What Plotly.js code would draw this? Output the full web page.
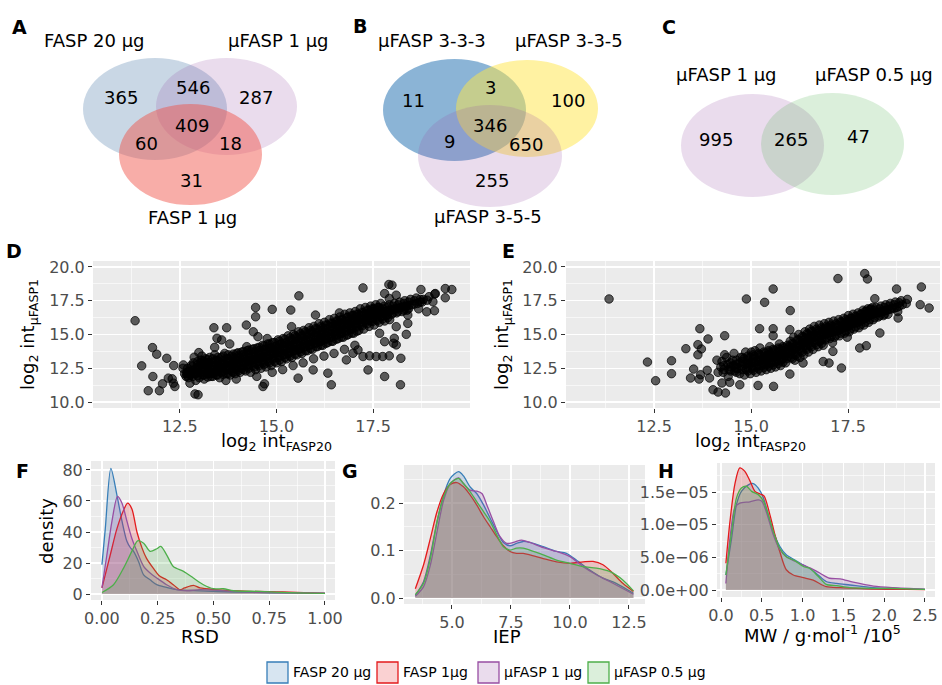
<!DOCTYPE html>
<html><head><meta charset="utf-8">
<script src="https://cdn.plot.ly/plotly-3.0.1.min.js"></script>
<style>html,body{margin:0;padding:0;background:#fff}#chart{width:942px;height:685px}</style>
</head><body><div id="chart"></div>
<script>
// ---------------- DATA ----------------
const vennALabels = ['FASP 20 µg', 'µFASP 1 µg', 'FASP 1 µg'];
const vennACounts = [365, 546, 287, 409, 60, 18, 31];
const vennBLabels = ['µFASP 3-3-3', 'µFASP 3-3-5', 'µFASP 3-5-5'];
const vennBCounts = [11, 3, 100, 346, 9, 650, 255];
const vennCLabels = ['µFASP 1 µg', 'µFASP 0.5 µg'];
const vennCCounts = [995, 265, 47];
const seriesNames = ['FASP 20 µg', 'FASP 1µg', 'µFASP 1 µg', 'µFASP 0.5 µg'];

// Panel D scatter (log2 int FASP20 vs log2 int FASP1)
const dOutliers = [[11.34,16.02],[11.51,12.68],[11.68,10.84],[11.79,14.03],[11.9,13.54],[11.8,11.89],[11.97,10.84],[12.05,11.35],[12.16,13.24],[12.2,11.77],[12.33,11.4],[12.34,12.7],[12.3,11.72],[12.37,11.15],[12.59,12.75],[12.67,12.14],[12.76,11.4],[12.89,10.6],[12.97,10.54],[12.87,13.32],[12.99,13.66],[13.38,15.5],[13.71,15.5],[13.46,14.72],[13.58,14.6],[13.4,14.05],[13.79,14.3],[14.22,15.7],[14.46,17.0],[14.46,16.31],[14.4,15.2],[14.52,14.84],[14.89,16.86],[15.37,16.81],[15.58,17.86],[15.39,15.58],[16.01,16.44],[14.65,11.15],[14.69,11.35],[15.56,11.77],[16.42,11.28],[16.33,12.14],[15.95,12.38],[17.24,18.45],[17.91,18.7],[17.99,18.65],[17.8,18.03],[17.92,17.67],[18.1,17.91],[18.74,18.33],[19.11,18.03],[19.37,18.4],[19.54,18.33],[19.37,17.72],[18.9,17.54],[19.05,17.42],[19.09,16.76],[18.89,16.68],[18.4,16.44],[18.4,15.82],[18.36,15.01],[18.1,15.58],[18.05,14.72],[18.03,14.35],[18.1,14.23],[17.8,14.47],[17.75,13.37],[17.92,13.42],[18.22,13.24],[17.8,11.89],[18.21,11.28],[17.58,13.37],[17.41,13.42],[17.24,13.37],[17.11,13.86],[17.37,12.38],[17.67,15.09],[16.81,13.12],[16.98,13.61]];
const dBand = [[12.62,12.1],[12.58,12.5],[12.66,11.9],[12.75,12.3],[12.72,11.8],[12.79,12.7],[12.77,12.0],[12.88,12.4],[12.85,12.9],[12.91,11.6],[12.9,12.1],[13.02,12.2],[12.98,12.6],[13.05,13.1],[13.0,11.8],[13.04,12.9],[13.07,13.4],[13.15,12.4],[13.12,12.0],[13.18,12.8],[13.16,13.2],[13.13,11.7],[13.28,12.5],[13.25,12.9],[13.31,12.1],[13.27,13.3],[13.3,11.9],[13.42,12.3],[13.39,12.7],[13.45,13.1],[13.44,12.0],[13.4,13.5],[13.55,12.6],[13.52,12.9],[13.58,12.2],[13.57,13.3],[13.53,11.8],[13.68,12.5],[13.65,12.8],[13.71,13.2],[13.7,12.1],[13.66,13.6],[13.69,11.6],[13.82,12.7],[13.79,13.0],[13.85,12.3],[13.84,13.4],[13.8,12.0],[13.95,12.8],[13.92,13.2],[13.98,12.4],[13.97,13.6],[13.93,12.1],[13.96,11.7],[14.08,12.9],[14.05,13.3],[14.11,12.5],[14.1,13.7],[14.06,12.2],[14.22,13.0],[14.19,13.4],[14.25,12.6],[14.24,13.8],[14.2,12.3],[14.23,14.1],[14.35,13.1],[14.32,13.5],[14.38,12.7],[14.37,13.9],[14.33,12.2],[14.48,13.2],[14.45,13.6],[14.51,12.8],[14.5,14.0],[14.46,12.4],[14.49,11.9],[14.62,13.3],[14.59,13.7],[14.65,12.9],[14.64,14.2],[14.6,12.5],[14.75,13.4],[14.72,13.9],[14.78,13.0],[14.77,14.3],[14.73,12.6],[14.76,14.7],[14.88,13.6],[14.85,14.0],[14.91,13.2],[14.9,14.4],[14.86,12.7],[14.89,12.2],[15.02,13.7],[14.99,14.1],[15.05,13.3],[15.04,14.6],[15.0,12.9],[15.15,13.9],[15.12,14.3],[15.18,13.5],[15.17,14.7],[15.13,13.0],[15.16,12.4],[15.28,14.0],[15.25,14.4],[15.31,13.6],[15.3,14.9],[15.26,13.2],[15.42,14.2],[15.39,14.6],[15.45,13.8],[15.44,15.0],[15.4,13.3],[15.43,12.7],[15.55,14.3],[15.52,14.8],[15.58,13.9],[15.57,15.2],[15.53,13.5],[15.68,14.5],[15.65,14.9],[15.71,14.1],[15.7,15.3],[15.66,13.6],[15.69,12.9],[15.82,14.6],[15.79,15.1],[15.85,14.2],[15.84,15.5],[15.8,13.8],[15.95,14.8],[15.92,15.2],[15.98,14.4],[15.97,15.6],[15.93,13.9],[15.96,13.2],[16.08,14.9],[16.05,15.4],[16.11,14.5],[16.1,15.8],[16.06,14.1],[16.22,15.1],[16.19,15.5],[16.25,14.7],[16.24,15.9],[16.2,14.2],[16.23,13.4],[16.35,15.2],[16.32,15.7],[16.38,14.8],[16.37,16.1],[16.33,14.4],[16.48,15.4],[16.45,15.8],[16.51,15.0],[16.5,16.2],[16.46,14.5],[16.49,13.6],[16.62,15.5],[16.59,16.0],[16.65,15.1],[16.64,16.3],[16.6,14.7],[16.63,16.6],[16.75,15.7],[16.72,16.1],[16.78,15.3],[16.77,16.5],[16.73,14.8],[16.76,13.9],[16.88,15.8],[16.85,16.3],[16.91,15.4],[16.9,16.6],[16.86,15.0],[17.02,16.0],[16.99,16.4],[17.05,15.6],[17.04,16.7],[17.0,15.1],[17.03,14.2],[17.15,16.1],[17.12,16.5],[17.18,15.7],[17.17,16.9],[17.13,15.3],[17.28,16.2],[17.25,16.6],[17.31,15.9],[17.3,17.0],[17.26,15.4],[17.42,16.4],[17.39,16.8],[17.45,16.0],[17.44,17.1],[17.4,15.6],[17.55,16.5],[17.52,16.9],[17.58,16.1],[17.57,17.2],[17.53,15.7],[17.68,16.6],[17.65,17.0],[17.71,16.3],[17.7,17.3],[17.66,15.9],[17.82,16.7],[17.79,17.1],[17.85,16.4],[17.8,16.0],[17.95,16.8],[17.92,17.2],[17.98,16.5],[17.93,16.1],[18.08,16.9],[18.05,17.3],[18.11,16.6],[18.22,17.0],[18.19,17.4],[18.25,16.7],[18.35,17.1],[18.32,17.5],[18.38,16.8],[18.5,17.2],[18.47,17.6],[18.65,17.3],[18.62,17.7],[18.68,16.9],[18.8,17.6],[18.77,17.4],[18.95,17.8],[19.1,18.0]];
// Extra dense-core points for D, as [x, [y values at that x]]
const dCore = [[12.7,[12.2,11.95,12.5]],[12.83,[12.35,12.1,12.65,11.9]],[12.96,[12.45,12.2,12.75,11.95,13.0]],[13.09,[12.5,12.25,12.8,12.0,13.05]],[13.22,[12.6,12.35,12.9,12.1,13.15,11.85]],[13.35,[12.65,12.4,12.95,12.15,13.2,11.9]],[13.48,[12.75,12.5,13.05,12.25,13.3,12.0]],[13.62,[12.8,12.55,13.1,12.3,13.4,12.05]],[13.75,[12.9,12.65,13.2,12.4,13.5,12.1]],[13.88,[13.0,12.75,13.3,12.5,13.55,12.2]],[14.01,[13.1,12.85,13.4,12.6,13.65,12.3]],[14.15,[13.2,12.95,13.5,12.7,13.75,12.4]],[14.28,[13.3,13.05,13.6,12.8,13.85,12.5]],[14.42,[13.4,13.15,13.7,12.9,13.95,12.6]],[14.55,[13.5,13.25,13.8,13.0,14.05,12.7]],[14.68,[13.6,13.35,13.9,13.1,14.15,12.8]],[14.82,[13.7,13.45,14.0,13.2,14.3,12.9]],[14.95,[13.85,13.6,14.1,13.3,14.4,13.0]],[15.08,[13.95,13.7,14.25,13.45,14.5,13.1]],[15.22,[14.1,13.8,14.35,13.55,14.65,13.3]],[15.35,[14.2,13.95,14.5,13.7,14.75,13.4]],[15.48,[14.35,14.1,14.65,13.85,14.9,13.55]],[15.62,[14.5,14.2,14.75,13.95,15.05,13.7]],[15.75,[14.6,14.35,14.9,14.1,15.2,13.8]],[15.88,[14.75,14.5,15.05,14.25,15.3,13.95]],[16.02,[14.9,14.6,15.15,14.35,15.45,14.1]],[16.15,[15.0,14.75,15.3,14.5,15.6,14.2]],[16.28,[15.15,14.9,15.45,14.65,15.7,14.35]],[16.42,[15.3,15.05,15.6,14.8,15.85,14.5]],[16.55,[15.45,15.2,15.75,14.95,16.0,14.65]],[16.68,[15.6,15.35,15.85,15.1,16.1,14.8]],[16.82,[15.75,15.5,16.0,15.25,16.25,14.95]],[16.95,[15.9,15.65,16.15,15.4,16.4,15.1]],[17.08,[16.05,15.8,16.3,15.55,16.5,15.25]],[17.22,[16.15,15.9,16.4,15.65,16.65]],[17.35,[16.3,16.05,16.55,15.8,16.8]],[17.48,[16.45,16.2,16.7,15.95,16.9]],[17.62,[16.55,16.3,16.8,16.05,17.0]],[17.75,[16.65,16.4,16.9,16.15]],[17.88,[16.75,16.5,17.0,16.25]],[18.02,[16.85,16.6,17.1]],[18.15,[16.95,16.7,17.2]],[18.3,[17.05,16.8,17.3]],[18.42,[17.15,16.9,17.4]],[18.57,[17.25,17.5]],[18.72,[17.4,17.6]]];

// Panel E scatter
const eOutliers = [[11.34,17.63],[12.33,12.96],[12.54,11.58],[12.95,13.06],[12.95,12.1],[13.32,13.95],[13.44,11.78],[13.52,12.44],[13.63,14.25],[13.68,15.43],[13.63,13.5],[13.66,11.7],[13.7,12.02],[13.72,13.93],[13.89,14.67],[13.87,12.35],[13.93,11.78],[14.02,10.91],[14.15,10.74],[14.34,10.67],[14.25,11.41],[14.32,14.91],[14.32,13.5],[14.45,11.46],[14.71,11.28],[14.88,17.63],[15.35,17.38],[15.57,18.37],[15.22,15.43],[15.18,11.23],[15.58,11.16],[15.57,15.43],[15.57,14.91],[16.01,16.77],[16.0,12.07],[16.0,15.36],[17.24,19.14],[17.93,19.51],[18.0,19.11],[18.19,17.65],[18.75,18.37],[19.39,18.52],[19.36,17.21],[19.59,16.96],[18.79,16.22],[17.8,14.0],[17.97,14.17],[17.33,12.52],[17.01,12.89],[16.86,13.0],[17.11,13.75],[18.32,15.11],[16.34,12.89]];
const eBand = [[14.12,13.1],[14.15,12.2],[14.25,13.0],[14.22,12.6],[14.28,12.2],[14.4,12.8],[14.37,13.3],[14.43,12.4],[14.41,11.9],[14.55,12.7],[14.52,13.1],[14.58,12.3],[14.56,13.6],[14.7,12.9],[14.67,12.5],[14.73,13.3],[14.71,12.1],[14.85,12.8],[14.82,13.2],[14.88,12.4],[14.86,13.7],[14.83,12.0],[15.0,12.9],[14.97,13.3],[15.03,12.5],[15.01,13.7],[14.98,12.1],[15.12,13.0],[15.09,13.4],[15.15,12.6],[15.13,12.2],[15.1,13.8],[15.25,13.1],[15.22,13.5],[15.28,12.7],[15.26,12.3],[15.23,14.0],[15.38,13.2],[15.35,13.6],[15.41,12.8],[15.39,12.4],[15.5,13.3],[15.47,13.7],[15.53,12.9],[15.51,12.5],[15.48,14.1],[15.62,13.4],[15.59,13.8],[15.65,13.0],[15.63,12.6],[15.75,13.5],[15.72,13.9],[15.78,13.1],[15.76,12.7],[15.73,14.3],[15.88,13.6],[15.85,14.0],[15.91,13.2],[15.89,12.9],[16.0,13.7],[15.97,14.1],[16.03,13.3],[16.01,14.5],[16.12,13.9],[16.09,14.3],[16.15,13.5],[16.13,13.1],[16.1,14.8],[16.25,14.2],[16.22,14.6],[16.28,13.8],[16.26,13.3],[16.23,15.0],[16.38,14.4],[16.35,14.8],[16.41,14.0],[16.39,15.2],[16.36,13.5],[16.5,14.6],[16.47,15.0],[16.53,14.2],[16.51,15.4],[16.48,13.7],[16.62,14.8],[16.59,15.2],[16.65,14.4],[16.63,15.6],[16.6,13.9],[16.75,14.9],[16.72,15.3],[16.78,14.5],[16.76,15.7],[16.73,14.1],[16.88,15.0],[16.85,15.4],[16.91,14.6],[16.89,15.8],[16.86,14.2],[17.0,15.1],[16.97,15.5],[17.03,14.7],[17.01,15.9],[17.12,15.2],[17.09,15.6],[17.15,14.8],[17.13,16.0],[17.1,14.4],[17.25,15.3],[17.22,15.7],[17.28,14.9],[17.26,16.1],[17.38,15.5],[17.35,15.9],[17.41,15.1],[17.39,16.2],[17.5,15.6],[17.47,16.0],[17.53,15.2],[17.51,16.4],[17.48,14.8],[17.62,15.8],[17.59,16.2],[17.65,15.4],[17.63,16.5],[17.75,15.9],[17.72,16.3],[17.78,15.5],[17.76,16.6],[17.88,16.1],[17.85,16.5],[17.91,15.7],[17.89,16.8],[18.0,16.3],[17.97,16.7],[18.03,15.9],[18.01,16.9],[18.12,16.5],[18.09,16.9],[18.15,16.1],[18.13,17.0],[18.25,16.6],[18.22,17.0],[18.28,16.3],[18.38,16.7],[18.35,17.1],[18.41,16.4],[18.5,16.8],[18.47,17.2],[18.53,16.5],[18.62,16.9],[18.59,17.3],[18.75,17.0],[18.72,17.4],[18.78,16.7],[18.9,17.2],[18.87,17.5],[19.0,17.3],[19.03,17.6]];
const eCore = [[14.3,[12.7,12.4]],[14.47,[12.6,12.9,12.3]],[14.62,[12.8,12.5,13.1,12.2]],[14.78,[12.7,13.0,12.4,13.3]],[14.92,[12.85,13.1,12.55,13.4,12.3]],[15.06,[12.95,13.2,12.65,13.5,12.35]],[15.2,[13.05,13.3,12.75,13.6,12.45]],[15.33,[13.15,13.4,12.85,13.7,12.55]],[15.45,[13.25,13.5,12.95,13.8,12.65]],[15.57,[13.35,13.6,13.05,13.9,12.75]],[15.7,[13.45,13.7,13.15,14.0,12.85]],[15.82,[13.55,13.8,13.25,14.1,12.95]],[15.94,[13.65,13.9,13.35,14.2]],[16.06,[13.8,14.05,13.5,14.35,13.2]],[16.19,[14.05,14.3,13.7,14.6,13.4]],[16.32,[14.3,14.55,14.0,14.85,13.7]],[16.44,[14.5,14.75,14.2,15.05,13.9]],[16.56,[14.7,14.95,14.4,15.25,14.1]],[16.69,[14.85,15.1,14.55,15.4,14.25]],[16.82,[14.95,15.2,14.65,15.5,14.35]],[16.94,[15.05,15.3,14.75,15.6]],[17.06,[15.15,15.4,14.85,15.7]],[17.19,[15.25,15.5,14.95,15.8]],[17.32,[15.4,15.65,15.1,15.95]],[17.44,[15.55,15.8,15.25,16.1]],[17.56,[15.7,15.95,15.4,16.2]],[17.69,[15.85,16.1,15.55,16.35]],[17.82,[16.0,16.25,15.7,16.5]],[17.94,[16.2,16.45,15.9,16.7]],[18.06,[16.4,16.65,16.1,16.85]],[18.19,[16.55,16.8,16.25]],[18.32,[16.65,16.9,16.4]],[18.44,[16.75,17.0,16.5]],[18.56,[16.85,17.1]],[18.69,[16.95,17.2]],[18.82,[17.1,17.35]]];

// Panel F: density of RSD
const fBlueX = [0, 0.015, 0.04, 0.067, 0.09, 0.112, 0.127, 0.142, 0.164, 0.187, 0.216, 0.246, 0.29, 0.336, 0.44, 0.59, 0.75, 1.0];
const fBlueY = [18.9, 42, 81, 64, 47, 34, 30, 27.5, 21, 12.4, 9.2, 6, 4.3, 2.8, 2, 1.3, 0.8, 0.4];
const fRedX = [0, 0.037, 0.067, 0.097, 0.115, 0.134, 0.157, 0.18, 0.2, 0.23, 0.26, 0.29, 0.32, 0.35, 0.37, 0.41, 0.44, 0.51, 0.66, 0.81, 1.0];
const fRedY = [3.9, 25, 42, 54, 58.6, 55, 40, 29.6, 23, 16.7, 11.4, 9.2, 6, 2.8, 3.9, 5.6, 3.9, 2.8, 1.7, 1.3, 0.4];
const fPurpleX = [0, 0.022, 0.045, 0.07, 0.09, 0.112, 0.134, 0.157, 0.187, 0.216, 0.246, 0.29, 0.336, 0.38, 0.44, 0.59, 0.75, 1.0];
const fPurpleY = [3.9, 25, 47, 63, 58.6, 47, 36, 27.5, 17.8, 13.5, 10.3, 6, 2.8, 2.1, 2.8, 1.7, 1.0, 0.6];
const fGreenX = [0, 0.052, 0.097, 0.134, 0.16, 0.187, 0.216, 0.246, 0.264, 0.29, 0.32, 0.366, 0.41, 0.455, 0.5, 0.545, 0.59, 0.71, 0.81, 1.0];
const fGreenY = [1, 6, 16.7, 27.5, 34.3, 32.8, 27.5, 29.2, 30.7, 25.3, 17.8, 14.6, 10.3, 6, 3.4, 3.4, 2.1, 1.7, 1, 0.4];

// Panel G: density of IEP
const gBlueX = [3.45,3.8,4.09,4.37,4.65,4.93,5.28,5.49,5.77,6.05,6.34,6.62,6.9,7.18,7.46,7.74,8.02,8.3,8.87,9.43,9.85,10.27,10.84,11.4,11.96,12.69];
const gBlueY = [0.0056,0.035,0.091,0.161,0.217,0.252,0.266,0.257,0.234,0.22,0.196,0.168,0.14,0.117,0.11,0.115,0.119,0.117,0.108,0.098,0.094,0.08,0.059,0.042,0.031,0.01];
const gRedX = [3.45,3.8,4.09,4.37,4.65,4.93,5.21,5.49,5.77,6.05,6.34,6.62,6.9,7.18,7.46,7.74,8.02,8.3,8.87,9.43,10.0,10.56,10.98,11.4,11.82,12.24,12.69];
const gRedY = [0.0196,0.07,0.126,0.182,0.22,0.239,0.243,0.234,0.217,0.196,0.171,0.15,0.129,0.11,0.098,0.094,0.094,0.091,0.083,0.076,0.073,0.076,0.077,0.07,0.052,0.031,0.014];
const gPurpleX = [3.45,3.8,4.09,4.37,4.65,4.93,5.28,5.49,5.77,6.05,6.27,6.48,6.76,7.04,7.32,7.6,7.95,8.3,8.87,9.43,10.0,10.56,11.12,11.82,12.69];
const gPurpleY = [0.0035,0.024,0.07,0.14,0.206,0.241,0.253,0.241,0.227,0.225,0.22,0.196,0.161,0.129,0.115,0.117,0.122,0.117,0.106,0.098,0.087,0.066,0.049,0.031,0.008];
const gGreenX = [3.45,3.8,4.09,4.37,4.65,4.93,5.28,5.49,5.77,6.05,6.34,6.62,6.9,7.18,7.46,7.74,8.02,8.3,8.87,9.43,10.0,10.56,11.12,11.68,12.24,12.69];
const gGreenY = [0.007,0.031,0.084,0.161,0.213,0.241,0.252,0.241,0.224,0.203,0.182,0.161,0.133,0.108,0.101,0.105,0.105,0.101,0.091,0.08,0.073,0.066,0.063,0.056,0.038,0.015];

// Panel H: density of MW (/10^5)
const hBlueX = [0.06,0.13,0.19,0.25,0.335,0.396,0.457,0.52,0.58,0.64,0.72,0.8,0.906,1.01,1.09,1.19,1.29,1.42,1.58,1.87,2.5];
const hBlueY = [2.3e-6,7.9e-6,13.1e-6,15.1e-6,16.1e-6,16.3e-6,15.6e-6,14.1e-6,11.5e-6,9e-6,6.7e-6,5.4e-6,4.6e-6,3.8e-6,3.3e-6,2.3e-6,1.3e-6,1.0e-6,0.77e-6,0.36e-6,0.1e-6];
const hRedX = [0.06,0.11,0.17,0.23,0.29,0.355,0.416,0.478,0.527,0.6,0.66,0.72,0.8,0.886,1.01,1.13,1.29,1.46,1.66,1.87,2.27,2.5];
const hRedY = [4.1e-6,10.5e-6,16.2e-6,18.7e-6,18.2e-6,16.7e-6,15.1e-6,14.7e-6,14.4e-6,11.5e-6,8.5e-6,5.9e-6,3.1e-6,2.3e-6,1.9e-6,1.5e-6,0.5e-6,0.36e-6,0.26e-6,0.15e-6,0.1e-6,0.05e-6];
const hPurpleX = [0.06,0.11,0.17,0.23,0.355,0.457,0.5,0.56,0.64,0.72,0.8,0.906,1.01,1.09,1.21,1.33,1.46,1.62,1.87,2.11,2.5];
const hPurpleY = [1.0e-6,7.9e-6,12.6e-6,13.3e-6,13.5e-6,13.8e-6,13.6e-6,11.8e-6,8.5e-6,6.2e-6,5.1e-6,4.4e-6,3.8e-6,3.4e-6,2.6e-6,1.8e-6,1.7e-6,1.2e-6,0.6e-6,0.36e-6,0.15e-6];
const hGreenX = [0.06,0.13,0.19,0.25,0.31,0.375,0.457,0.52,0.58,0.64,0.72,0.8,0.906,1.01,1.09,1.19,1.29,1.42,1.58,1.87,2.11,2.5];
const hGreenY = [2.3e-6,9e-6,14.1e-6,15.6e-6,15.9e-6,15.1e-6,14.6e-6,13.6e-6,11.5e-6,9e-6,6.4e-6,5.1e-6,4.5e-6,3.6e-6,3.3e-6,2.1e-6,0.87e-6,0.67e-6,0.36e-6,0.26e-6,0.26e-6,0.1e-6];

// ---------------- LAYOUT HELPERS ----------------
const W = 942, H = 685;
const fx = p => p / W;
const fy = p => 1 - p / H;
const FONT = 'DejaVu Sans';
const COLORS = ['#377EB8', '#E41A1C', '#984EA3', '#4DAF4A'];
const FILLS = ['rgba(55,126,184,0.2)', 'rgba(228,26,28,0.2)', 'rgba(152,78,163,0.2)', 'rgba(77,175,74,0.2)'];

function axis(domain, range, tickvals, ticktext, minorvals, anchor) {
  return {
    domain: domain, range: range, anchor: anchor,
    tickmode: 'array', tickvals: tickvals, ticktext: ticktext,
    ticks: 'outside', ticklen: 4, tickwidth: 1, tickcolor: '#333333',
    tickfont: {family: FONT, size: 16, color: '#4D4D4D'},
    showgrid: true, gridcolor: '#FFFFFF', gridwidth: 1.3,
    minor: {tickmode: 'array', tickvals: minorvals, showgrid: true, gridcolor: '#FFFFFF', gridwidth: 0.6, ticks: ''},
    zeroline: false, showline: false, automargin: false, fixedrange: true
  };
}
const xd = (l, r) => [fx(l), fx(r)];
const yd = (b, t) => [fy(b), fy(t)];

const traces = [];
function scatterTrace(out, band, core, xa, ya) {
  const pts = band.concat(out);
  core.forEach(c => c[1].forEach(y => pts.push([c[0], y])));
  traces.push({
    type: 'scatter', mode: 'markers', xaxis: xa, yaxis: ya, showlegend: false,
    x: pts.map(p => p[0]), y: pts.map(p => p[1]),
    marker: {size: 8.5, color: 'rgba(0,0,0,0.62)', line: {width: 0.9, color: 'rgba(0,0,0,0.8)'}},
    hoverinfo: 'x+y'
  });
}
scatterTrace(dOutliers, dBand, dCore, 'x', 'y');
scatterTrace(eOutliers, eBand, eCore, 'x2', 'y2');

function densTraces(xs, ys, xa, ya) {
  xs.forEach((x, i) => {
    traces.push({
      type: 'scatter', mode: 'lines', xaxis: xa, yaxis: ya, name: seriesNames[i], showlegend: false,
      x: x, y: ys[i], fill: 'tozeroy', fillcolor: FILLS[i],
      line: {color: COLORS[i], width: 1.3, shape: 'spline', smoothing: 0.8}
    });
  });
}
densTraces([fBlueX, fRedX, fPurpleX, fGreenX], [fBlueY, fRedY, fPurpleY, fGreenY], 'x3', 'y3');
densTraces([gBlueX, gRedX, gPurpleX, gGreenX], [gBlueY, gRedY, gPurpleY, gGreenY], 'x4', 'y4');
densTraces([hBlueX, hRedX, hPurpleX, hGreenX], [hBlueY, hRedY, hPurpleY, hGreenY], 'x5', 'y5');

// ---------------- VENN SHAPES ----------------
const shapes = [];
function ell(l, r, t, b, fill) {
  shapes.push({type: 'circle', xref: 'paper', yref: 'paper', x0: fx(l), x1: fx(r), y0: fy(b), y1: fy(t),
    fillcolor: fill, line: {width: 0}, layer: 'above'});
}
// A
ell(83, 227, 58, 160, 'rgba(100,140,180,0.35)');
ell(156, 297, 58, 155, 'rgba(152,78,163,0.2)');
ell(119, 262, 104, 205, 'rgba(240,80,70,0.47)');
// B
ell(383, 526, 59, 161, 'rgba(55,126,184,0.58)');
ell(456, 598, 60, 157, 'rgba(255,230,70,0.5)');
ell(418, 562, 105, 207, 'rgba(152,78,163,0.2)');
// C
ell(681, 824, 94, 197, 'rgba(152,78,163,0.2)');
ell(761, 904, 93, 195, 'rgba(77,175,74,0.2)');

const ann = [];
function txt(x, y, s, size, opts) {
  ann.push(Object.assign({xref: 'paper', yref: 'paper', x: fx(x), y: fy(y), text: s, showarrow: false,
    xanchor: 'center', yanchor: 'middle', font: {family: FONT, size: size, color: '#000'}}, opts || {}));
}
// Venn A labels and counts
txt(94, 40, vennALabels[0], 18); txt(278, 40, vennALabels[1], 18); txt(192, 218, vennALabels[2], 18);
const posA = [[121, 98], [193, 88], [256, 98], [192, 125], [146, 143], [230, 143], [191, 180]];
posA.forEach((p, i) => txt(p[0], p[1], String(vennACounts[i]), 18));
// Venn B
txt(432, 40, vennBLabels[0], 18); txt(569, 40, vennBLabels[1], 18); txt(488, 216, vennBLabels[2], 18);
const posB = [[413, 101], [490, 88], [568, 101], [490, 125], [449, 141], [526, 144], [492, 180]];
posB.forEach((p, i) => txt(p[0], p[1], String(vennBCounts[i]), 18));
// Venn C
txt(726, 74, vennCLabels[0], 18); txt(874, 74, vennCLabels[1], 18);
const posC = [[716, 140], [791, 140], [858, 137]];
posC.forEach((p, i) => txt(p[0], p[1], String(vennCCounts[i]), 18));

// Panel letters
[['A', 19, 27], ['B', 360, 26], ['C', 669, 27], ['D', 14, 251], ['E', 508, 251], ['F', 22, 471], ['G', 350, 471], ['H', 666, 471]]
  .forEach(l => txt(l[1], l[2], '<b>' + l[0] + '</b>', 19));

// Axis titles
txt(276, 442, 'log<sub>2</sub> int<sub>FASP20</sub>', 18);
txt(750, 442, 'log<sub>2</sub> int<sub>FASP20</sub>', 18);
txt(29, 335, 'log<sub>2</sub> int<sub>µFASP1</sub>', 18, {textangle: -90});
txt(503, 335, 'log<sub>2</sub> int<sub>µFASP1</sub>', 18, {textangle: -90});
txt(46, 531, 'density', 18, {textangle: -90});
txt(200, 636, 'RSD', 18);
txt(507, 636, 'IEP', 18);
txt(822, 634, 'MW / g·mol<sup>-1</sup> /10<sup>5</sup>', 18);

// Manual legend
const legX = [267, 377, 478, 588];
legX.forEach((x, i) => {
  shapes.push({type: 'rect', xref: 'paper', yref: 'paper', x0: fx(x), x1: fx(x + 21), y0: fy(683), y1: fy(662),
    fillcolor: FILLS[i], line: {color: COLORS[i], width: 1.3}});
  txt(x + 24, 672, seriesNames[i], 14, {xanchor: 'left'});
});

const layout = {
  width: W, height: H, margin: {l: 0, r: 0, t: 0, b: 0},
  paper_bgcolor: '#FFFFFF', plot_bgcolor: '#EBEBEB',
  font: {family: FONT, color: '#000'}, showlegend: false,
  xaxis: axis(xd(93, 470), [10.25, 20.01], [12.5, 15, 17.5], ['12.5', '15.0', '17.5'], [11.25, 13.75, 16.25, 18.75], 'y'),
  yaxis: axis(yd(408, 261), [9.56, 20.44], [10, 12.5, 15, 17.5, 20], ['10.0', '12.5', '15.0', '17.5', '20.0'], [11.25, 13.75, 16.25, 18.75], 'x'),
  xaxis2: axis(xd(566, 940), [10.23, 19.87], [12.5, 15, 17.5], ['12.5', '15.0', '17.5'], [11.25, 13.75, 16.25, 18.75], 'y2'),
  yaxis2: axis(yd(408, 261), [9.56, 20.44], [10, 12.5, 15, 17.5, 20], ['10.0', '12.5', '15.0', '17.5', '20.0'], [11.25, 13.75, 16.25, 18.75], 'x2'),
  xaxis3: axis(xd(91, 335), [-0.049, 1.045], [0, 0.25, 0.5, 0.75, 1], ['0.00', '0.25', '0.50', '0.75', '1.00'], [0.125, 0.375, 0.625, 0.875], 'y3'),
  yaxis3: axis(yd(600, 461), [-3.87, 85.8], [0, 20, 40, 60, 80], ['0', '20', '40', '60', '80'], [10, 30, 50, 70], 'x3'),
  xaxis4: axis(xd(404, 645), [2.97, 13.18], [5, 7.5, 10, 12.5], ['5.0', '7.5', '10.0', '12.5'], [3.75, 6.25, 8.75, 11.25], 'y4'),
  yaxis4: axis(yd(604, 465), [-0.0126, 0.28], [0, 0.1, 0.2], ['0.0', '0.1', '0.2'], [0.05, 0.15, 0.25], 'x4'),
  xaxis5: axis(xd(717, 935), [-0.049, 2.623], [0, 0.5, 1, 1.5, 2, 2.5], ['0.0', '0.5', '1.0', '1.5', '2.0', '2.5'], [0.25, 0.75, 1.25, 1.75, 2.25], 'y5'),
  yaxis5: axis(yd(597, 463), [-1.07e-6, 1.944e-5], [0, 5e-6, 1e-5, 1.5e-5], ['0.0e+00', '5.0e\u221206', '1.0e\u221205', '1.5e\u221205'], [2.5e-6, 7.5e-6, 1.25e-5, 1.75e-5], 'x5'),
  shapes: shapes, annotations: ann
};

Plotly.newPlot('chart', traces, layout, {staticPlot: true, displayModeBar: false});
</script></body></html>
